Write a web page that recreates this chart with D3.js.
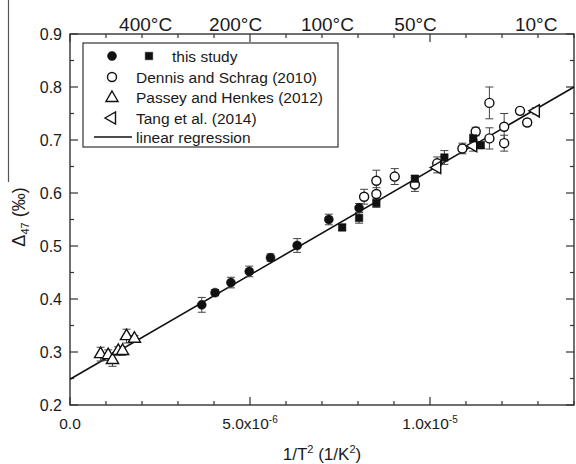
<!DOCTYPE html>
<html><head><meta charset="utf-8">
<script src="https://cdn.jsdelivr.net/npm/d3@7"></script>
<style>
body{margin:0;background:#fff;}
text{font-family:"Liberation Sans",Arial,sans-serif;fill:#1a1a1a;}
</style></head>
<body><svg id="c" width="576" height="464"></svg>
<script>
// ---- data: [1/T^2 (1/K^2), Δ47 (‰), error] ----
const thisStudyCircles = [
  [3.66e-6,0.389,0.014],[4.03e-6,0.412,0.006],[4.47e-6,0.431,0.010],[4.98e-6,0.452,0.010],
  [5.57e-6,0.478,0.007],[6.31e-6,0.501,0.013],[7.19e-6,0.550,0.010],[8.03e-6,0.572,0.008]
];
const thisStudySquares = [
  [7.56e-6,0.535,0.006],[8.03e-6,0.553,0.010],[8.51e-6,0.581,0.008],[9.58e-6,0.627,0.006],
  [10.4e-6,0.667,0.013],[11.2e-6,0.703,0.008],[11.41e-6,0.690,0.006]
];
const dennisSchrag = [
  [8.17e-6,0.593,0.014],[8.51e-6,0.623,0.020],[8.51e-6,0.598,0.012],[9.02e-6,0.631,0.015],
  [9.58e-6,0.616,0.013],[10.2e-6,0.656,0.012],[10.9e-6,0.684,0.010],[11.27e-6,0.716,0.008],
  [11.65e-6,0.770,0.030],[11.65e-6,0.703,0.020],[12.06e-6,0.725,0.025],[12.06e-6,0.694,0.015],
  [12.5e-6,0.755,0.006],[12.7e-6,0.733,0.006]
];
const passeyHenkes = [
  [0.85e-6,0.296,0.013],[1.06e-6,0.294,0.010],[1.18e-6,0.285,0.012],[1.34e-6,0.302,0.008],
  [1.46e-6,0.302,0.008],[1.57e-6,0.330,0.013],[1.79e-6,0.325,0.006]
];
const tangEtAl = [
  [10.2e-6,0.648,0.010],[11.2e-6,0.689,0.010],[12.94e-6,0.755,0.006]
];
const regSlope = 3.94e4, regIntercept = 0.2485;
const xDomain = [0, 1.4e-5], yDomain = [0.2, 0.9];
const xMajorTicks = [0, 5e-6, 1e-5];
const xMajorLabels = [["0.0",""],["5.0x10","-6"],["1.0x10","-5"]];
const yMajorTicks = [0.2,0.3,0.4,0.5,0.6,0.7,0.8,0.9];
const topLabels = ["400°C","200°C","100°C","50°C","10°C"];
const topLabelPos = [2.1e-6, 4.6e-6, 7.15e-6, 9.6e-6, 12.95e-6];
const legendLabels = ["this study","Dennis and Schrag (2010)","Passey and Henkes (2012)","Tang et al. (2014)","linear regression"];

const svg = d3.select("#c");
const L=70,R=574,T=34,B=405;
const x = d3.scaleLinear().domain(xDomain).range([L,R]);
const y = d3.scaleLinear().domain(yDomain).range([B,T]);
const axisCol="#333";

// stray overline of the y title (present in original)
svg.append("line").attr("x1",8.5).attr("x2",8.5).attr("y1",0).attr("y2",182).attr("stroke","#555").attr("stroke-width",1.2);

// frame
svg.append("rect").attr("x",L).attr("y",T).attr("width",R-L).attr("height",B-T)
  .attr("fill","none").attr("stroke",axisCol).attr("stroke-width",1.4);

// ticks
const xMinor = d3.range(0,15).map(i=>i*1e-6);
const yMinor = d3.range(0,15).map(i=>0.2+i*0.05);
function isMajorX(v){return Math.abs(v/5e-6-Math.round(v/5e-6))<1e-6;}
function isMajorY(v){return Math.abs(v*10-Math.round(v*10))<1e-6;}
const tg = svg.append("g").attr("stroke",axisCol).attr("stroke-width",1.2);
xMinor.forEach(v=>{
  const len = isMajorX(v)?8:4;
  tg.append("line").attr("x1",x(v)).attr("x2",x(v)).attr("y1",B).attr("y2",B-len);
  tg.append("line").attr("x1",x(v)).attr("x2",x(v)).attr("y1",T).attr("y2",T+len);
});
yMinor.forEach(v=>{
  const len = isMajorY(v)?8:4;
  tg.append("line").attr("x1",L).attr("x2",L+len).attr("y1",y(v)).attr("y2",y(v));
  tg.append("line").attr("x1",R).attr("x2",R-len).attr("y1",y(v)).attr("y2",y(v));
});

// tick labels
xMajorTicks.forEach((v,i)=>{
  const t = svg.append("text").attr("x",x(v)).attr("y",429).attr("text-anchor","middle").attr("font-size",15.5);
  t.append("tspan").text(xMajorLabels[i][0]);
  if(xMajorLabels[i][1]) t.append("tspan").attr("dy",-6).attr("font-size",10).text(xMajorLabels[i][1]);
});
yMajorTicks.forEach(v=>{
  svg.append("text").attr("x",62).attr("y",y(v)+5.5).attr("text-anchor","end").attr("font-size",16).text(v.toFixed(1));
});
topLabels.forEach((s,i)=>{
  svg.append("text").attr("x",x(topLabelPos[i])).attr("y",31).attr("text-anchor","middle").attr("font-size",19).text(s);
});

// axis titles
const xt = svg.append("text").attr("x",(L+R)/2).attr("y",460).attr("text-anchor","middle").attr("font-size",17);
xt.append("tspan").text("1/T");
xt.append("tspan").attr("dy",-7).attr("font-size",11).text("2");
xt.append("tspan").attr("dy",7).text(" (1/K");
xt.append("tspan").attr("dy",-7).attr("font-size",11).text("2");
xt.append("tspan").attr("dy",7).text(")");
const yt = svg.append("text").attr("transform","translate(25,217) rotate(-90)").attr("text-anchor","middle").attr("font-size",18);
yt.append("tspan").text("Δ");
yt.append("tspan").attr("dy",4).attr("font-size",11).text("47");
yt.append("tspan").attr("dy",-4).text(" (‰)");

// regression line
svg.append("line").attr("x1",x(xDomain[0])).attr("y1",y(regIntercept+regSlope*xDomain[0]))
  .attr("x2",x(xDomain[1])).attr("y2",y(regIntercept+regSlope*xDomain[1]))
  .attr("stroke","#111").attr("stroke-width",1.6);

// error bars + markers
const eg = svg.append("g").attr("stroke","#444").attr("stroke-width",1);
function errBars(data){
  data.forEach(d=>{
    eg.append("line").attr("x1",x(d[0])).attr("x2",x(d[0])).attr("y1",y(d[1]-d[2])).attr("y2",y(d[1]+d[2]));
    [d[1]-d[2],d[1]+d[2]].forEach(v=>eg.append("line").attr("x1",x(d[0])-4).attr("x2",x(d[0])+4).attr("y1",y(v)).attr("y2",y(v)));
  });
}
[thisStudyCircles,thisStudySquares,dennisSchrag,passeyHenkes,tangEtAl].forEach(errBars);

const symCircle = d3.symbol().type(d3.symbolCircle).size(64)();
const symSquare = d3.symbol().type(d3.symbolSquare).size(56)();
const symTri = d3.symbol().type(d3.symbolTriangle).size(64)();
const mg = svg.append("g");
function markers(data, path, fill, rot){
  data.forEach(d=>{
    mg.append("path").attr("d",path)
      .attr("transform",`translate(${x(d[0])},${y(d[1])})`+(rot?` rotate(${rot})`:""))
      .attr("fill",fill).attr("stroke","#111").attr("stroke-width",fill==="#fff"?1.4:0.5);
  });
}
markers(dennisSchrag,symCircle,"#fff");
markers(passeyHenkes,symTri,"#fff");
markers(tangEtAl,symTri,"#fff",-90);
markers(thisStudyCircles,symCircle,"#111");
markers(thisStudySquares,symSquare,"#111");

// legend
const lg = svg.append("g");
lg.append("rect").attr("x",83).attr("y",43).attr("width",255).attr("height",104)
  .attr("fill","#fff").attr("stroke",axisCol).attr("stroke-width",1.2);
const rowY = [56,77,97,118,137];
function legSym(path,fill,cx,cy,rot){
  lg.append("path").attr("d",path).attr("transform",`translate(${cx},${cy})`+(rot?` rotate(${rot})`:""))
    .attr("fill",fill).attr("stroke","#111").attr("stroke-width",fill==="#fff"?1.4:0.5);
}
legSym(symCircle,"#111",112,rowY[0]);
legSym(symSquare,"#111",149,rowY[0]);
legSym(symCircle,"#fff",112,rowY[1]);
legSym(symTri,"#fff",112,rowY[2]+1);
legSym(symTri,"#fff",112,rowY[3],-90);
lg.append("line").attr("x1",94).attr("x2",132).attr("y1",rowY[4]).attr("y2",rowY[4]).attr("stroke","#111").attr("stroke-width",1.6);
legendLabels.forEach((s,i)=>{
  lg.append("text").attr("x",i===0?172:136).attr("y",rowY[i]+5.5).attr("font-size",15.5).text(s);
});
</script></body></html>
